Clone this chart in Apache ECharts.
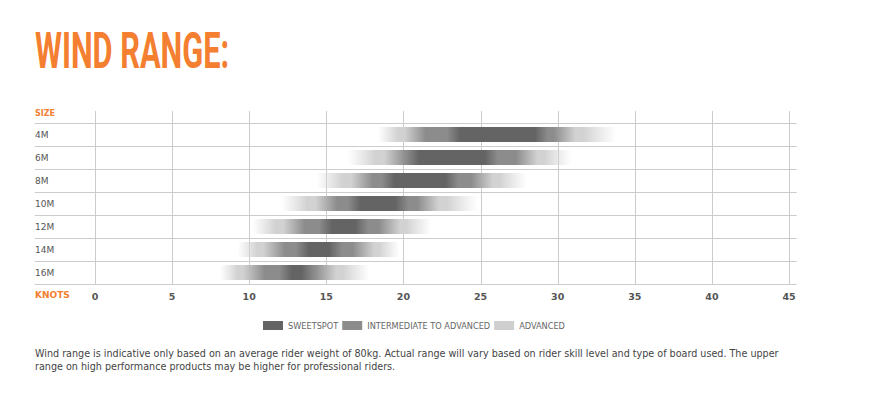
<!DOCTYPE html>
<html><head><meta charset="utf-8">
<script src="https://cdn.jsdelivr.net/npm/echarts@6/dist/echarts.min.js"></script>
<style>html,body{margin:0;padding:0;background:#fff}#c{width:871px;height:393px}</style>
</head><body><div id="c"></div>
<script>
// ---- data (knots) ----
const sizes      = ['4M', '6M', '8M', '10M', '12M', '14M', '16M'];
const knotTicks  = [0, 5, 10, 15, 20, 25, 30, 35, 40, 45];
const advStart   = [18.35, 16.4, 14.35, 12.1, 10.2, 9.25, 8.1];
const interStart = [20.75, 19.45, 17.3, 15.0, 12.9, 11.6, 10.3];
const sweetStart = [23.25, 20.6, 19.0, 16.8, 14.95, 13.45, 12.35];
const sweetEnd   = [28.95, 25.7, 23.15, 19.9, 17.3, 15.6, 13.8];
const interEnd   = [30.45, 28.0, 25.1, 21.6, 19.1, 17.4, 14.95];
const advEnd     = [33.8, 30.9, 28.0, 24.8, 21.8, 19.75, 17.8];
const legendNames = ['SWEETSPOT', 'INTERMEDIATE TO ADVANCED', 'ADVANCED'];
const footnote = [
  'Wind range is indicative only based on an average rider weight of 80kg. Actual range will vary based on rider skill level and type of board used. The upper',
  'range on high performance products may be higher for professional riders.'
];

// ---- styles ----
const ORANGE = '#f47f30';
const DARK = '#646464', MID = '#8c8c8c', LIGHT = '#d2d2d2', LIGHT0 = 'rgba(215,215,215,0)';
const LINE = '#cccccc';
const FONT = 'DejaVu Sans';

const chart = echarts.init(document.getElementById('c'), null, {renderer: 'svg'});

function renderGridLines(params, api) {
  const band = api.size([0, 1])[1];
  const top = api.coord([0, 0])[1] - band / 2;
  const bottom = api.coord([0, sizes.length - 1])[1] + band / 2;
  const xl = api.coord([-3.9, 0])[0];
  const xr = api.coord([45.5, 0])[0];
  const children = [];
  for (let i = 0; i <= sizes.length; i++) {
    const y = Math.round(top + i * band) + 0.5;
    children.push({type: 'line', shape: {x1: xl, y1: y, x2: xr, y2: y}, style: {stroke: LINE, lineWidth: 1}});
  }
  knotTicks.forEach(t => {
    const x = Math.round(api.coord([t, 0])[0]) + 0.5;
    children.push({type: 'line', shape: {x1: x, y1: Math.round(top) - 12, x2: x, y2: Math.round(bottom)}, style: {stroke: LINE, lineWidth: 1}});
  });
  return {type: 'group', children};
}

function renderBar(params, api) {
  const row = api.value(0);
  const v = [1, 2, 3, 4, 5, 6].map(d => api.value(d));
  const p0 = api.coord([v[0], row]);
  const p1 = api.coord([v[5], row]);
  const h = api.size([0, 1])[1] * 0.66;
  const span = v[5] - v[0];
  const t = 0.7;
  const fadeL = v[0] + 0.75 * (v[1] - t - v[0]);
  const fadeR = v[5] - 0.8 * (v[5] - (v[4] + t));
  const raw = [
    [v[0], LIGHT0], [fadeL, LIGHT], [v[1] - t, LIGHT], [v[1] + t, MID],
    [v[2] - t * 0.6, MID], [v[2] + t * 0.6, DARK], [v[3] - t * 0.6, DARK], [v[3] + t * 0.6, MID],
    [v[4] - t, MID], [v[4] + t, LIGHT], [fadeR, LIGHT], [v[5], LIGHT0]
  ];
  let last = 0;
  const colorStops = raw.map(([k, c]) => {
    let o = Math.min(1, Math.max(0, (k - v[0]) / span));
    if (o < last) o = last;
    last = o;
    return {offset: o, color: c};
  });
  return {
    type: 'rect',
    shape: {x: p0[0], y: p0[1] - h / 2, width: p1[0] - p0[0], height: h},
    style: {fill: {type: 'linear', x: 0, y: 0, x2: 1, y2: 0, colorStops}}
  };
}

const legendColors = [DARK, MID, '#cfcfcf'];

const option = {
  animation: false,
  backgroundColor: '#fff',
  grid: {left: 95, right: 82, top: 123, height: 161},
  xAxis: {
    type: 'value', min: 0, max: 45, interval: 5,
    axisLine: {show: false}, axisTick: {show: false}, splitLine: {show: false},
    axisLabel: {color: '#555', fontFamily: FONT, fontWeight: 'bold', fontSize: 9.5, margin: 7}
  },
  yAxis: {
    type: 'category', data: sizes, inverse: true,
    axisLine: {show: false}, axisTick: {show: false}, splitLine: {show: false},
    axisLabel: {color: '#555', fontFamily: FONT, fontSize: 9, align: 'left', margin: 60}
  },
  legend: {
    data: legendNames, left: 263, top: 321, padding: 0, itemWidth: 20, itemHeight: 9, itemGap: 4,
    icon: 'rect', selectedMode: false,
    textStyle: {color: '#666', fontFamily: FONT, fontSize: 8.2}
  },
  series: [
    {type: 'custom', name: 'grid', silent: true, renderItem: renderGridLines, data: [[0, 0]], encode: {x: 0, y: 1}, z: 1},
    {
      type: 'custom', name: 'range', renderItem: renderBar, z: 2,
      encode: {y: 0, x: [1, 2, 3, 4, 5, 6]},
      data: sizes.map((s, i) => [i, advStart[i], interStart[i], sweetStart[i], sweetEnd[i], interEnd[i], advEnd[i]])
    }
  ].concat(legendNames.map((n, i) => ({
    type: 'custom', name: n, data: [], renderItem: () => null, itemStyle: {color: legendColors[i]}
  }))),
  graphic: [
    {type: 'text', x: 35, y: 51, scaleX: 0.615, style: {text: 'WIND RANGE:', fill: ORANGE,
      font: 'bold 50px Roboto', textVerticalAlign: 'middle'}},
    {type: 'text', x: 35, y: 113, style: {text: 'SIZE', fill: ORANGE, font: 'bold 8px "DejaVu Sans"', textVerticalAlign: 'middle'}},
    {type: 'text', x: 35, y: 295, style: {text: 'KNOTS', fill: ORANGE, font: 'bold 9px "DejaVu Sans"', textVerticalAlign: 'middle'}},
    {type: 'text', x: 35, y: 353, style: {text: footnote[0], fill: '#444', font: '9.6px "DejaVu Sans"', textVerticalAlign: 'middle'}},
    {type: 'text', x: 35, y: 366, style: {text: footnote[1], fill: '#444', font: '9.6px "DejaVu Sans"', textVerticalAlign: 'middle'}}
  ]
};
chart.setOption(option);
</script></body></html>
